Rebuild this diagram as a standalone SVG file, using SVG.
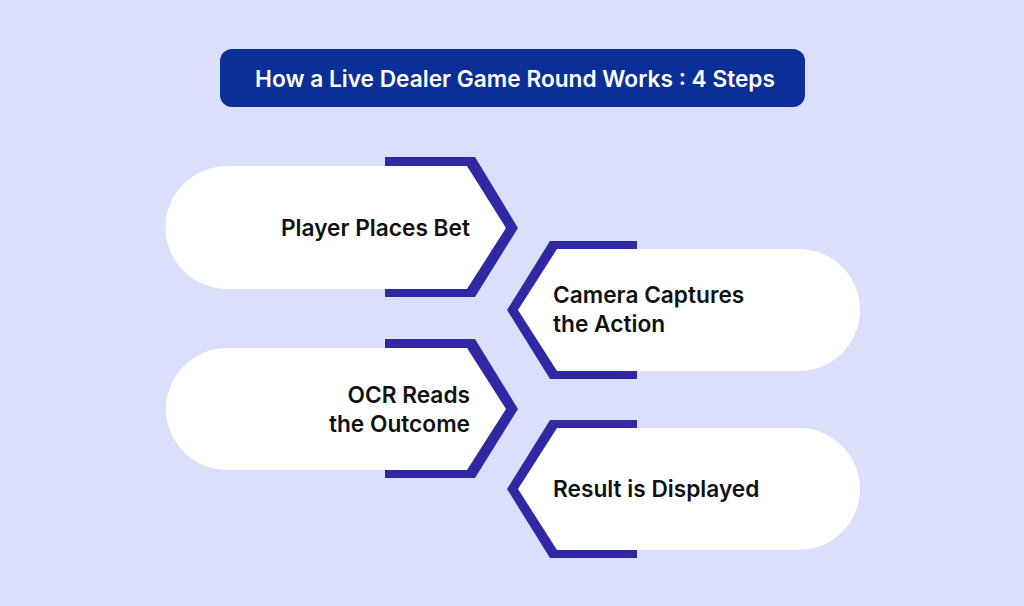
<svg xmlns="http://www.w3.org/2000/svg" width="1024" height="606" viewBox="0 0 1024 606">
<style>
.b{fill:#2f2aa3}.w{fill:#fff}
.t{font-family:Inter,"Liberation Sans",sans-serif;font-size:22.7px;font-weight:600;fill:#111}
</style>
<rect width="1024" height="606" fill="#dcdffb"/>
<g id="title"><rect x="220" y="49" width="585" height="58" rx="12" fill="#0b2f98"/>
<text x="515" y="87" text-anchor="middle" class="t" style="fill:#fff">How a Live Dealer Game Round Works : 4 Steps</text></g>
<g id="connectors"></g>
<g id="n1"><polygon class="b" points="385,157 475,157 518,228 475,297 385,297"/>
<path class="w" d="M227,166 H467 L506,228 L467,289 H227 A61,61 0 0 1 227,166 Z"/>
<text class="t" x="470" y="236" text-anchor="end">Player Places Bet</text></g>
<g id="n2"><polygon class="b" points="637,241 550,241 507,310 550,379 637,379"/>
<path class="w" d="M557,249 H799 A61,61 0 0 1 799,371 H557 L518,310 Z"/>
<text class="t" x="553" y="303">Camera Captures</text><text class="t" x="553" y="332">the Action</text></g>
<g id="n3"><polygon class="b" points="385,339 475,339 518,409 475,478 385,478"/>
<path class="w" d="M227,348 H467 L506,409 L467,470 H227 A61,61 0 0 1 227,348 Z"/>
<text class="t" x="470" y="403" text-anchor="end">OCR Reads</text><text class="t" x="470" y="432" text-anchor="end">the Outcome</text></g>
<g id="n4"><polygon class="b" points="637,420 550,420 507,489 550,558 637,558"/>
<path class="w" d="M557,428 H799 A61,61 0 0 1 799,550 H557 L518,489 Z"/>
<text class="t" x="553" y="497">Result is Displayed</text></g>
</svg>
